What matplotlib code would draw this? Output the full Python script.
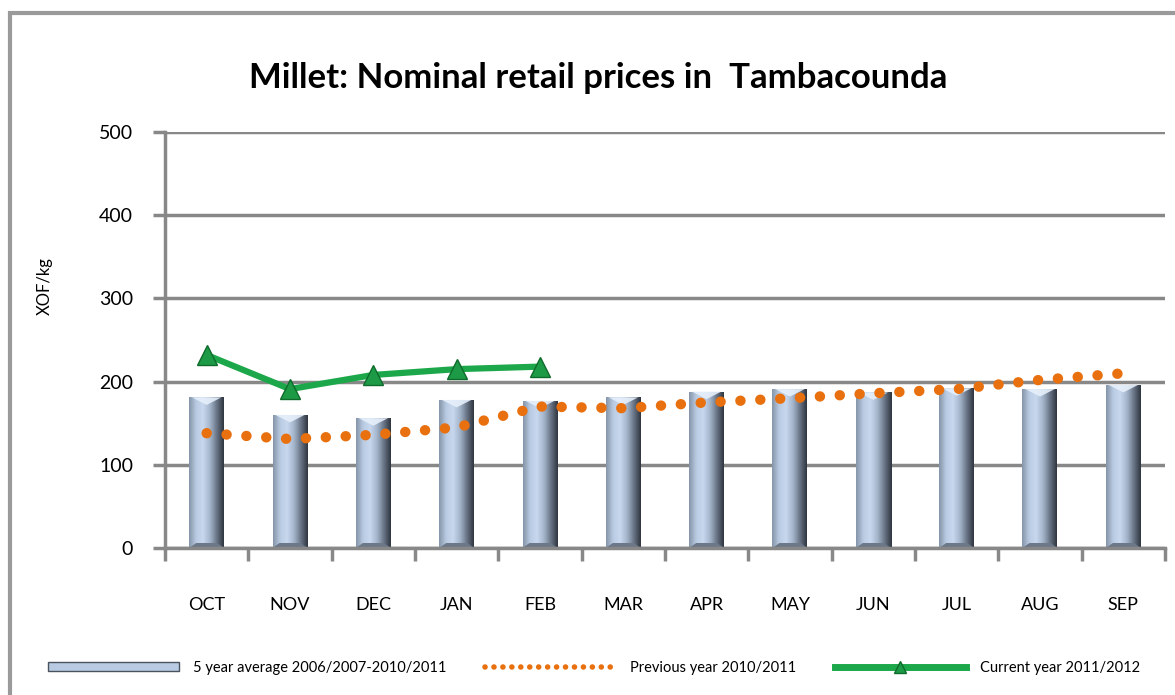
import numpy as np
import matplotlib
matplotlib.use("Agg")
import matplotlib.pyplot as plt
from matplotlib.patches import Rectangle
from matplotlib.lines import Line2D
from matplotlib.colors import LinearSegmentedColormap

plt.rcParams['font.family'] = ['Lato', 'DejaVu Sans']

months = ["OCT", "NOV", "DEC", "JAN", "FEB", "MAR", "APR", "MAY", "JUN", "JUL", "AUG", "SEP"]
avg_5yr = [181, 160, 156, 178, 177, 181, 188, 191, 187, 192, 191, 196]
prev_year = [138, 131, 136, 145, 170, 168, 175, 180, 186, 191, 202, 210]
curr_year = [232, 191, 208, 215, 218]

yticks = [0, 100, 200, 300, 400, 500]

fig = plt.figure(figsize=(11.75, 6.95), dpi=100)
ax = fig.add_axes([165/1175, 147/695, 1000/1175, 416/695])

x = np.arange(len(months))
bw = 0.42
bars = ax.bar(x, avg_5yr, width=bw, color="#8d9db3", edgecolor="none", zorder=2,
              label="5 year average 2006/2007-2010/2011")

cmap = LinearSegmentedColormap.from_list("cyl", ["#8595aa", "#b9cbe2", "#c8d8ee", "#a5b6cc", "#6a7687", "#2f3640"])
grad = np.linspace(0, 1, 64).reshape(1, -1)
for b in bars:
    x0, w, h = b.get_x(), b.get_width(), b.get_height()
    im = ax.imshow(grad, extent=[x0, x0 + w, 0, h], cmap=cmap, aspect='auto', zorder=2.1,
                   interpolation='bicubic')
    im.set_clip_path(b)
    tri = plt.Polygon([[x0 + w * 0.08, h], [x0 + w * 0.92, h], [x0 + w / 2, h - 9]], closed=True,
                      facecolor="#e6f0fb", edgecolor="none", zorder=2.2, alpha=0.9)
    ax.add_patch(tri)
    ax.add_patch(plt.Polygon([[x0, 0], [x0 + w, 0], [x0 + w * 0.8, 6], [x0 + w * 0.2, 6]],
                             closed=True, facecolor="#6c7788", edgecolor="none", zorder=2.2))

ax.plot(x, prev_year, color="#e8700f", linewidth=7.5, linestyle=(0, (0.01, 1.9)),
        dash_capstyle='round', zorder=3, label="Previous year 2010/2011")
ax.plot(x[:len(curr_year)], curr_year, color="#1ca84a", linewidth=4.5, marker="^",
        markersize=14, markerfacecolor="#1d9a45", markeredgecolor="#0f6b2c", zorder=4,
        label="Current year 2011/2012")

ax.set_xlim(-0.5, len(months) - 0.5)
ax.set_ylim(0, 500)
ax.set_yticks(yticks)
ax.set_yticklabels([str(v) for v in yticks], fontsize=14)
ax.set_xticks(x)
ax.set_xticklabels(months, fontsize=13)
ax.tick_params(axis='x', length=0, pad=35)
ax.set_xticks(np.arange(-0.5, len(months)), minor=True)
ax.tick_params(axis='x', which='minor', length=9, width=2.5, color="#888888", direction='out')
ax.tick_params(axis='y', length=9, width=2.5, color="#888888", direction='out', pad=14)
ax.yaxis.grid(True, color="#888888", linewidth=2.5, zorder=0)
ax.set_axisbelow(True)
for s in ["top", "right"]:
    ax.spines[s].set_visible(False)
for s in ["left", "bottom"]:
    ax.spines[s].set_color("#888888")
    ax.spines[s].set_linewidth(2.5)

ax.set_ylabel("XOF/kg", fontsize=12)
ax.yaxis.set_label_coords(-0.112, 0.63)

fig.text(598/1175, 1 - 78/695, "Millet: Nominal retail prices in  Tambacounda", ha="center", va="center",
         fontsize=25, fontweight="bold")

fig.add_artist(Rectangle((10/1175, -0.05), 1.2, 1 - 13/695 + 0.05, transform=fig.transFigure,
                         fill=False, edgecolor="#9a9a9a", linewidth=3))

handles = [Rectangle((0, 0), 1, 1, facecolor="#b9cbe2", edgecolor="#4a5260", linewidth=1),
           Line2D([], [], color="#e8700f", linewidth=4, linestyle=(0, (0.01, 1.6)), dash_capstyle='round'),
           Line2D([], [], color="#1ca84a", linewidth=5, marker="^", markersize=8,
                  markerfacecolor="#1d9a45", markeredgecolor="#0f6b2c")]
labels = ["5 year average 2006/2007-2010/2011", "Previous year 2010/2011", "Current year 2011/2012"]
fig.legend(handles, labels, loc="center", bbox_to_anchor=(594/1175, 1 - 668/695), ncol=3,
           frameon=False, fontsize=10.5, handlelength=9.0, handleheight=0.6, columnspacing=2.6,
           handletextpad=1.0)

fig.savefig("out.png", dpi=100)
